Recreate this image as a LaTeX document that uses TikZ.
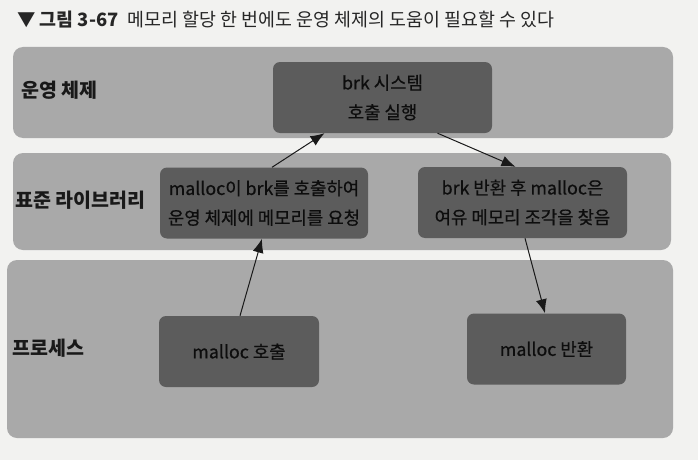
\documentclass[tikz,border=0pt]{standalone}
\usepackage{fontspec}
\setmainfont{Noto Sans CJK KR}
\newfontfamily\stepfont[FakeBold=0.6]{Noto Sans CJK KR}
\usetikzlibrary{arrows.meta}
\definecolor{paper}{HTML}{F2F2F0}
\definecolor{bandgray}{HTML}{A9A9A9}
\definecolor{boxgray}{HTML}{5C5C5C}

\begin{document}
\begin{tikzpicture}[x=1pt, y=-1pt, inner sep=0pt,
		band/.style={fill=bandgray, rounded corners=10pt},
		box/.style={fill=boxgray, rounded corners=7pt, minimum width=#1, minimum height=71pt,
			align=center, text=black!95, font=\stepfont\fontsize{17.8}{29.5}\selectfont},
		box/.default=208pt,
		layer/.style={anchor=west, text=black!90, font=\fontsize{19.5}{22}\selectfont\bfseries},
		flow/.style={-{Latex[length=14pt,width=11pt]}, line width=1pt, black!90}]
		\fill [paper] (0,0) rectangle (698,460);

		% title
		\node [anchor=west, text=black!85, font=\fontsize{18.4}{21}\selectfont] (title) at (17,20)
			{\textbf{▼ 그림 3-67}\hspace{9pt}메모리 할당 한 번에도 운영 체제의 도움이 필요할 수 있다};

		% layers
		\fill [band] (13,47) rectangle (673,138);
		\fill [band] (13,153) rectangle (671,250);
		\fill [band] (7,260) rectangle (673,438);
		\node [layer] (os) at (21,90) {운영 체제};
		\node [layer] (lib) at (15,200) {표준 라이브러리};
		\node [layer] (proc) at (12,348) {프로세스};

		% steps
		\node [box=219pt] (sys) at (382.5,97.5) {brk 시스템\\호출 실행};
		\node [box] (req) at (264,203) {malloc이 brk를 호출하여\\운영 체제에 메모리를 요청};
		\node [box=209pt] (find) at (522.5,202.5) {brk 반환 후 malloc은\\여유 메모리 조각을 찾음};
		\node [box=160pt] (call) at (239,351.5) {malloc 호출};
		\node [box=159pt] (ret) at (546.5,349) {malloc 반환};

		\draw [flow] ([xshift=1pt]call.north) -- ([xshift=-2pt]req.south);
		\draw [flow] ([xshift=8pt]req.north) -- ([xshift=-58pt]sys.south);
		\draw [flow] ([xshift=55pt]sys.south) -- ([xshift=-7pt]find.north);
		\draw [flow] ([xshift=2.5pt]find.south) -- ([xshift=-1.5pt]ret.north);
\end{tikzpicture}
\end{document}
